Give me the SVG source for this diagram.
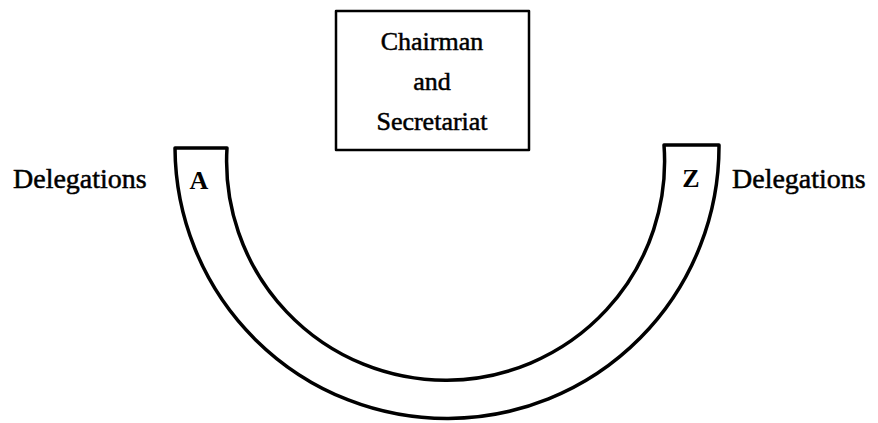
<svg xmlns="http://www.w3.org/2000/svg" width="878" height="423" viewBox="0 0 878 423">
  <style>
    .lbl { font-family: "Liberation Serif", "DejaVu Serif", serif; fill: #000; stroke: #000; stroke-width: 0.5; }
    .big { font-size: 28px; }
    .box { font-size: 26px; text-anchor: middle; }
    .cell { font-size: 26px; font-weight: bold; text-anchor: middle; stroke-width: 0; }
    .line { fill: none; stroke: #000; stroke-linejoin: round; }
  </style>
  <rect width="878" height="423" fill="#fff"/>

  <!-- Presiding table -->
  <g id="chairman">
    <rect class="line" x="336" y="11" width="193" height="139" stroke-width="2.5"/>
    <text class="lbl box" x="432" y="50">Chairman</text>
    <text class="lbl box" x="432" y="90">and</text>
    <text class="lbl box" x="432" y="130">Secretariat</text>
  </g>

  <!-- Horseshoe of delegation seats, from A to Z -->
  <g id="horseshoe">
    <path class="line" stroke-width="3.5" d="M175,148 L227,148 A219,219 0 1 0 664,145 L719,145 A272,272 0 1 1 175,148 Z"/>
    <text class="lbl cell" x="199" y="189">A</text>
    <text class="lbl cell" x="691" y="187">Z</text>
  </g>

  <g id="delegations-left">
    <text class="lbl big" x="13" y="188">Delegations</text>
  </g>
  <g id="delegations-right">
    <text class="lbl big" x="732" y="188">Delegations</text>
  </g>

  <g id="connectors"/>
</svg>
